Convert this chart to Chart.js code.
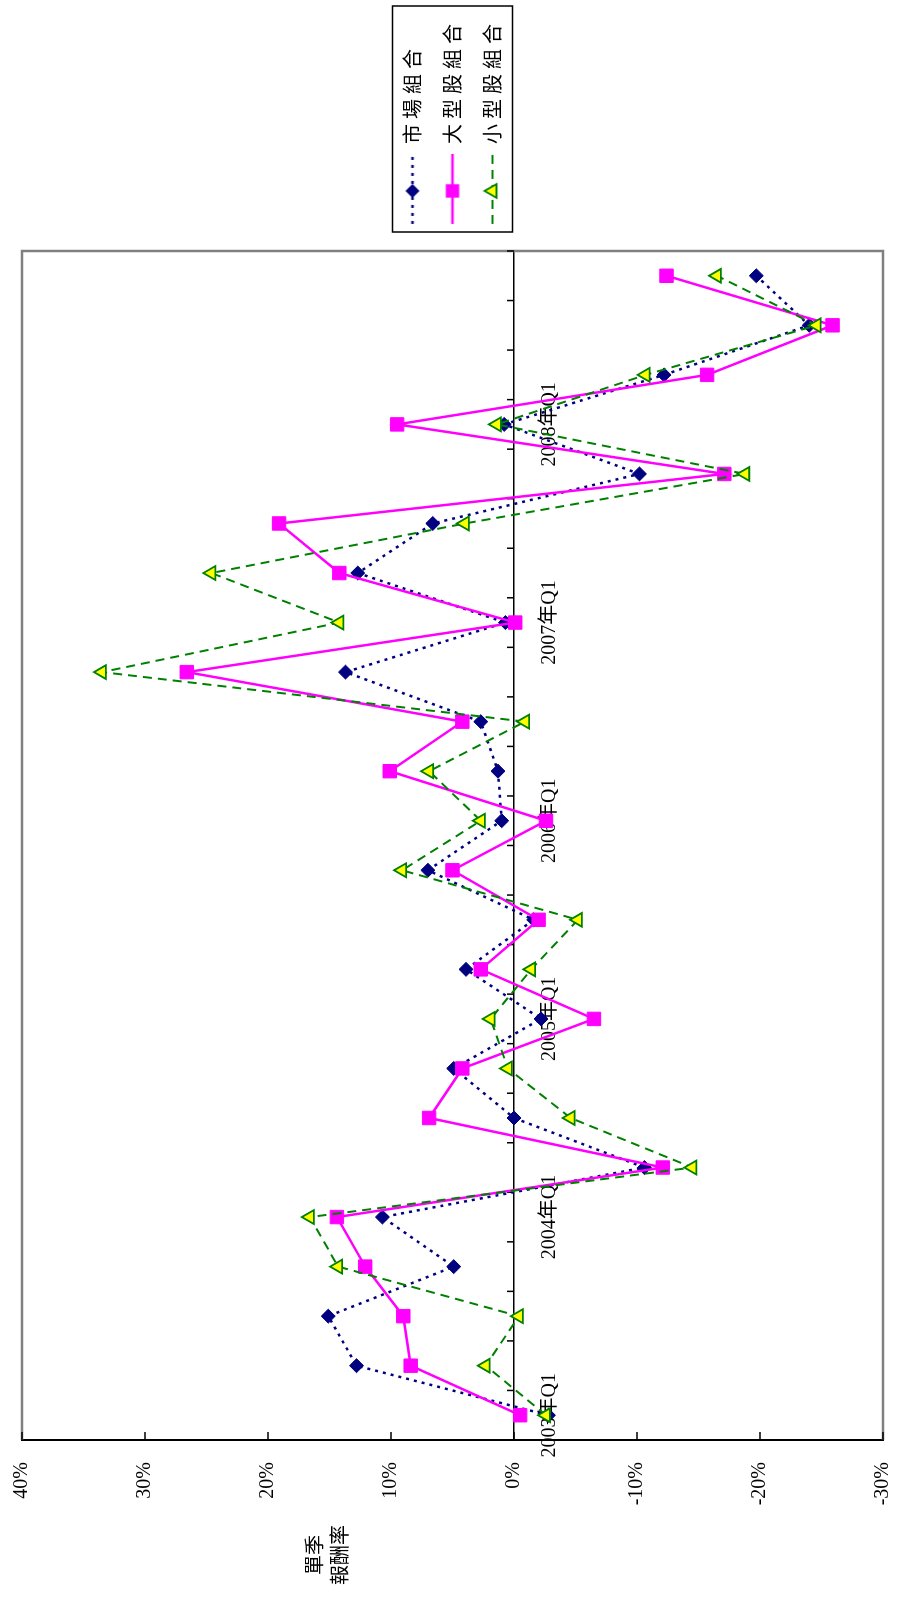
<!DOCTYPE html>
<html>
<head>
<meta charset="utf-8">
<script src="https://cdn.jsdelivr.net/npm/chart.js@4.4.1/dist/chart.umd.min.js"></script>
<style>
  html, body { margin: 0; padding: 0; background: #fff; }
  body { width: 899px; height: 1607px; overflow: hidden; position: relative; }
  /* the chart is laid out landscape and turned a quarter turn counter-clockwise */
  #wrap {
    position: absolute; left: 0; top: 0;
    width: 1607px; height: 899px;
    transform-origin: 0 0;
    transform: translate(0, 1607px) rotate(-90deg);
  }
</style>
</head>
<body>
<div id="wrap"><canvas id="c" width="1607" height="899"></canvas></div>
<script>
// quarterly returns, in percent
const quarters = [
  '2003年Q1', '2003年Q2', '2003年Q3', '2003年Q4',
  '2004年Q1', '2004年Q2', '2004年Q3', '2004年Q4',
  '2005年Q1', '2005年Q2', '2005年Q3', '2005年Q4',
  '2006年Q1', '2006年Q2', '2006年Q3', '2006年Q4',
  '2007年Q1', '2007年Q2', '2007年Q3', '2007年Q4',
  '2008年Q1', '2008年Q2', '2008年Q3', '2008年Q4'
];
const marketReturns   = [-2.8, 12.8, 15.1, 4.9, 10.7, -10.6, 0.0, 4.9, -2.2, 3.9, -1.6, 7.0, 1.0, 1.3, 2.7, 13.7, 0.7, 12.7, 6.6, -10.2, 0.8, -12.2, -24.0, -19.7];
const largeCapReturns = [-0.5, 8.4, 9.0, 12.1, 14.4, -12.1, 6.9, 4.2, -6.5, 2.7, -2.0, 5.0, -2.6, 10.1, 4.2, 26.6, -0.1, 14.2, 19.1, -17.1, 9.5, -15.7, -25.9, -12.4];
const smallCapReturns = [-2.6, 2.3, -0.4, 14.3, 16.6, -14.5, -4.6, 0.5, 1.9, -1.4, -5.2, 9.1, 2.7, 6.9, -0.9, 33.5, 14.2, 24.6, 4.0, -18.8, 1.4, -10.7, -24.6, -16.5];
const returnTicks = [-30, -20, -10, 0, 10, 20, 30, 40];
const seriesNames = ['市場組合', '大型股組合', '小型股組合'];
const axisTitleLines = ['單季', '報酬率'];

const serif = "'Liberation Serif', 'Noto Sans CJK TC', serif";
const cjk = "'Noto Sans CJK TC', 'Noto Sans CJK SC', sans-serif";

const NAVY = '#000080', MAGENTA = '#FF00FF', GREEN = '#008000', YELLOW = '#FFFF00';

// legend key: a short stroke of the series line with its marker in the middle
function legendIcon(kind) {
  const cv = document.createElement('canvas');
  cv.width = 77; cv.height = 22;
  const g = cv.getContext('2d');
  const y = 11, x0 = 7, x1 = 77, cx = 40;
  g.beginPath();
  g.moveTo(x0, y); g.lineTo(x1, y);
  if (kind === 0) { g.strokeStyle = NAVY; g.lineWidth = 2.5; g.setLineDash([3, 5]); }
  if (kind === 1) { g.strokeStyle = MAGENTA; g.lineWidth = 2.5; }
  if (kind === 2) { g.strokeStyle = GREEN; g.lineWidth = 2; g.setLineDash([9, 6]); }
  g.stroke();
  g.setLineDash([]);
  g.beginPath();
  if (kind === 0) {
    g.moveTo(cx - 7, y); g.lineTo(cx, y - 7); g.lineTo(cx + 7, y); g.lineTo(cx, y + 7); g.closePath();
    g.fillStyle = NAVY; g.fill();
  } else if (kind === 1) {
    g.fillStyle = MAGENTA; g.fillRect(cx - 6.7, y - 6.7, 13.4, 13.4);
  } else {
    g.moveTo(cx, y - 8); g.lineTo(cx + 6.9, y + 4); g.lineTo(cx - 6.9, y + 4); g.closePath();
    g.fillStyle = YELLOW; g.fill();
    g.strokeStyle = GREEN; g.lineWidth = 1.8; g.stroke();
  }
  return cv;
}
const icons = [legendIcon(0), legendIcon(1), legendIcon(2)];
const spaced = s => s.split('').join('\u2005');

// scales claim no extra room for overhanging labels
const noOverhang = s => { s.paddingTop = 0; s.paddingBottom = 0; s.paddingLeft = 0; s.paddingRight = 0; };

const framePlugin = {
  id: 'frame',
  beforeDatasetsDraw(chart) {
    const { ctx, chartArea: a, scales: { x, y } } = chart;
    ctx.save();
    // plot area outline (value axis side is drawn by the scale border)
    ctx.strokeStyle = '#808080';
    ctx.lineWidth = 2.5;
    ctx.beginPath();
    ctx.moveTo(a.left, a.top); ctx.lineTo(a.right, a.top);
    ctx.lineTo(a.right, a.bottom); ctx.lineTo(a.left, a.bottom);
    ctx.stroke();
    // tick marks pointing into the plot
    ctx.strokeStyle = '#000';
    ctx.lineWidth = 1.5;
    ctx.beginPath();
    returnTicks.forEach(v => {
      const py = y.getPixelForValue(v);
      ctx.moveTo(a.left, py); ctx.lineTo(a.left + 8, py);
    });
    const zy = y.getPixelForValue(0);
    for (let i = 0; i <= quarters.length; i++) {
      const px = x.getPixelForValue(i - 0.5);
      ctx.moveTo(px, zy); ctx.lineTo(px, zy - 7);
    }
    ctx.stroke();
    ctx.restore();
  },
  afterDraw(chart) {
    const { ctx } = chart;
    ctx.save();
    // legend frame
    const hb = chart.legend.legendHitBoxes;
    if (hb && hb.length) {
      const l = Math.min(...hb.map(h => h.left)) - 1;
      const r = Math.max(...hb.map(h => h.left + h.width)) + 18;
      const t = hb[0].top - 10;
      const last = hb[hb.length - 1];
      const b = last.top + last.height + 10;
      ctx.strokeStyle = '#000';
      ctx.lineWidth = 1.5;
      ctx.strokeRect(l, t, r - l, b - t);
    }
    // value axis title, written horizontally
    ctx.fillStyle = '#000';
    ctx.font = '20px ' + cjk;
    ctx.textAlign = 'center';
    ctx.textBaseline = 'middle';
    ctx.fillText(axisTitleLines[0], 52, 314);
    ctx.fillText(axisTitleLines[1], 52, 339);
    ctx.restore();
  }
};

new Chart(document.getElementById('c'), {
  type: 'line',
  data: {
    labels: quarters,
    datasets: [
      {
        label: seriesNames[0], data: marketReturns, order: 3,
        borderColor: NAVY, borderWidth: 2.5, borderDash: [3, 5],
        pointStyle: 'rectRot', pointRadius: 7,
        pointBackgroundColor: NAVY, pointBorderColor: NAVY, pointBorderWidth: 1
      },
      {
        label: seriesNames[1], data: largeCapReturns, order: 2,
        borderColor: MAGENTA, borderWidth: 2.5,
        pointStyle: 'rect', pointRadius: 9.5,
        pointBackgroundColor: MAGENTA, pointBorderColor: MAGENTA, pointBorderWidth: 1
      },
      {
        label: seriesNames[2], data: smallCapReturns, order: 1,
        borderColor: GREEN, borderWidth: 2, borderDash: [9, 6],
        pointStyle: 'triangle', pointRadius: 8,
        pointBackgroundColor: YELLOW, pointBorderColor: GREEN, pointBorderWidth: 1.8
      }
    ]
  },
  options: {
    responsive: false,
    animation: false,
    devicePixelRatio: 1,
    layout: { padding: { left: 0, top: 22, right: 14, bottom: 16 } },
    plugins: {
      tooltip: { enabled: false },
      legend: {
        position: 'right',
        align: 'center',
        labels: {
          usePointStyle: true,
          pointStyleWidth: 77,
          padding: 20,
          color: '#000',
          font: { family: cjk, size: 20 },
          generateLabels: chart => chart.data.datasets.map((ds, i) => ({
            text: spaced(ds.label),
            pointStyle: icons[i],
            datasetIndex: i,
            hidden: false,
            lineWidth: 0,
            strokeStyle: 'rgba(0,0,0,0)',
            fillStyle: 'rgba(0,0,0,0)',
            fontColor: '#000'
          }))
        }
      }
    },
    scales: {
      x: {
        type: 'category',
        offset: true,
        position: { y: 0 },
        afterFit: noOverhang,
        grid: { display: false, drawTicks: false },
        border: { display: true, color: '#000', width: 1.5 },
        ticks: {
          autoSkip: false, maxRotation: 0, minRotation: 0,
          padding: 24, color: '#000',
          font: { family: serif, size: 20 },
          callback: (v, i) => quarters[i].endsWith('Q1') ? quarters[i] : ''
        }
      },
      y: {
        type: 'linear',
        position: 'left',
        min: -30, max: 40,
        afterBuildTicks: s => { s.ticks = returnTicks.map(v => ({ value: v })); },
        afterFit: s => { s.width = 167; noOverhang(s); },
        grid: { display: false, drawTicks: false },
        border: { display: true, color: '#000', width: 2 },
        ticks: {
          padding: 22, color: '#000',
          font: { family: serif, size: 20 },
          callback: v => v + '%'
        }
      }
    }
  },
  plugins: [framePlugin]
});
</script>
</body>
</html>
